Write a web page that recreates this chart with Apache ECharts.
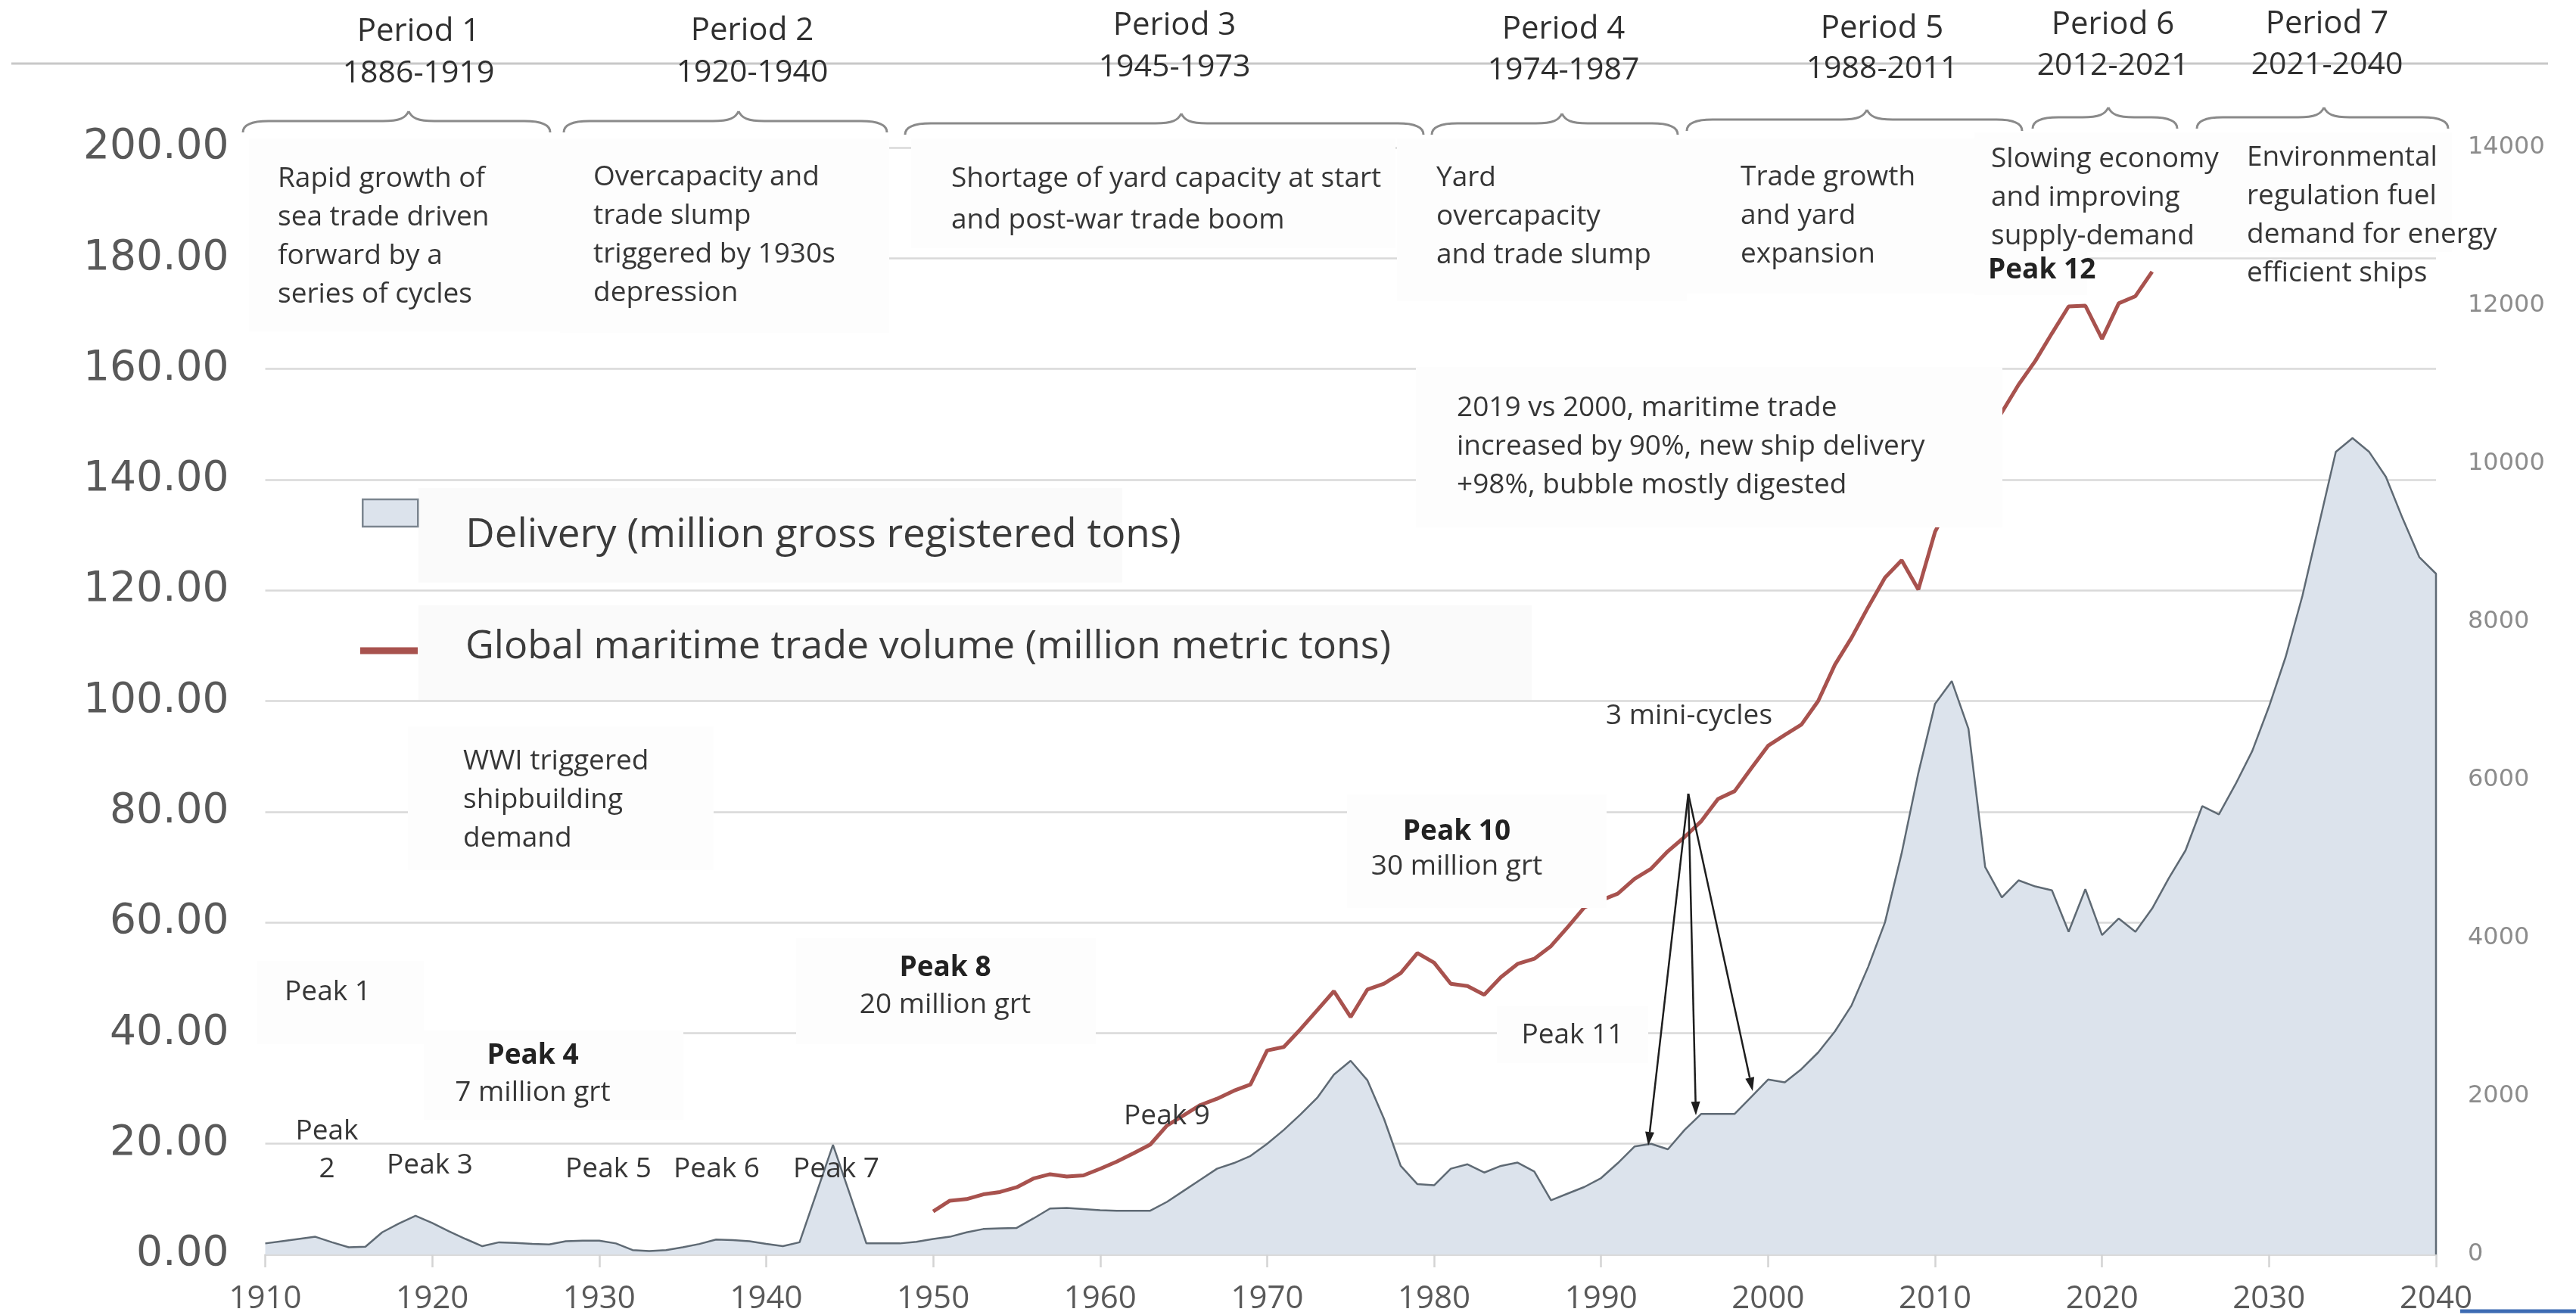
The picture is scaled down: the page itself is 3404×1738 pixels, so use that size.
<!DOCTYPE html>
<html>
<head>
<meta charset="utf-8">
<script src="https://cdn.jsdelivr.net/npm/echarts@6/dist/echarts.min.js"></script>
<style>
html,body{margin:0;padding:0;background:#ffffff;}
#c{width:3404px;height:1738px;}
</style>
</head>
<body>
<div id="c"></div>
<script>
// ---------------- DATA ----------------
const deliveryYears = [
 1910,1911,1912,1913,1914,1915,1916,1917,1918,1919,
 1920,1921,1922,1923,1924,1925,1926,1927,1928,1929,
 1930,1931,1932,1933,1934,1935,1936,1937,1938,1939,
 1940,1941,1942,1943,1944,1945,1946,1947,1948,1949,
 1950,1951,1952,1953,1954,1955,1956,1957,1958,1959,
 1960,1961,1962,1963,1964,1965,1966,1967,1968,1969,
 1970,1971,1972,1973,1974,1975,1976,1977,1978,1979,
 1980,1981,1982,1983,1984,1985,1986,1987,1988,1989,
 1990,1991,1992,1993,1994,1995,1996,1997,1998,1999,
 2000,2001,2002,2003,2004,2005,2006,2007,2008,2009,
 2010,2011,2012,2013,2014,2015,2016,2017,2018,2019,
 2020,2021,2022,2023,2024,2025,2026,2027,2028,2029,
 2030,2031,2032,2033,2034,2035,2036,2037,2038,2039,
 2040
];
// Delivery (million gross registered tons) - left axis
const deliveryValues = [
 2.0,2.4,2.8,3.2,2.2,1.3,1.4,4.0,5.6,7.0,
 5.7,4.2,2.8,1.5,2.2,2.1,1.9,1.8,2.4,2.5,
 2.5,2.0,0.8,0.6,0.8,1.3,1.9,2.7,2.6,2.4,
 1.9,1.5,2.2,11.0,19.8,11.0,2.0,2.0,2.0,2.3,
 2.8,3.2,4.0,4.6,4.7,4.8,6.5,8.3,8.4,8.2,
 8.0,7.9,7.9,7.9,9.5,11.5,13.5,15.5,16.5,17.8,
 20.0,22.5,25.3,28.3,32.5,35.0,31.5,24.5,16.0,12.7,
 12.5,15.5,16.3,14.8,16.0,16.6,15.0,9.8,11.0,12.2,
 13.8,16.5,19.5,20.0,19.0,22.5,25.4,25.4,25.4,28.5,
 31.6,31.1,33.5,36.5,40.3,45.0,52.0,60.0,72.5,87.0,
 99.5,103.6,95.0,70.0,64.5,67.6,66.5,65.8,58.3,66.0,
 57.7,60.7,58.3,62.5,68.0,73.0,81.0,79.5,85.0,91.0,
 99.0,108.0,119.0,132.0,145.0,147.5,145.0,140.5,133.0,126.0,
 123.0
];
const tradeYears = [
 1950,1951,1952,1953,1954,1955,1956,1957,1958,1959,
 1960,1961,1962,1963,1964,1965,1966,1967,1968,1969,
 1970,1971,1972,1973,1974,1975,1976,1977,1978,1979,
 1980,1981,1982,1983,1984,1985,1986,1987,1988,1989,
 1990,1991,1992,1993,1994,1995,1996,1997,1998,1999,
 2000,2001,2002,2003,2004,2005,2006,2007,2008,2009,
 2010,2011,2012,2013,2014,2015,2016,2017,2018,2019,
 2020,2021,2022,2023
];
// Global maritime trade volume (million metric tons) - right axis
const tradeValues = [
 545,680,700,760,790,850,960,1015,985,1000,
 1084,1175,1280,1390,1630,1760,1890,1970,2070,2150,
 2580,2625,2850,3090,3330,3003,3350,3424,3558,3813,
 3690,3424,3395,3285,3507,3675,3740,3900,4140,4390,
 4480,4563,4750,4880,5100,5280,5480,5760,5860,6150,
 6434,6570,6702,7000,7458,7800,8190,8560,8780,8410,
 9140,9550,9950,10300,10650,11000,11300,11650,11990,12000,
 11580,12030,12120,12430
];
const periodNames = ['Period 1','Period 2','Period 3','Period 4','Period 5','Period 6','Period 7'];
const periodRanges = ['1886-1919','1920-1940','1945-1973','1974-1987','1988-2011','2012-2021','2021-2040'];
const seriesNames = ['Delivery (million gross registered tons)','Global maritime trade volume (million metric tons)'];

// ---------------- CHART ----------------
const chart = echarts.init(document.getElementById('c'), null, {width:3404, height:1738});
const FONT = '"Open Sans", "Noto Sans", sans-serif';
const TXT = '#363636';

const deliveryData = deliveryYears.map((y,i)=>[y, deliveryValues[i]]);
deliveryData.push([2040, 0]); // closing edge of the area at 2040
const tradeData = tradeYears.map((y,i)=>[y, tradeValues[i]]);

function font(size, bold){ return (bold?'bold ':'') + size + 'px ' + FONT; }
function box(x,y,w,h,z,fill){
  return {type:'rect', silent:true, z: z||1, shape:{x:x,y:y,width:w,height:h},
          style:{fill:fill||'#fdfdfd'}};
}
function txt(text,x,y,o){
  o=o||{};
  return {type:'text', silent:true, z:o.z||12,
    style:{text:text, x:x, y:y, font:font(o.size||37,o.bold), fill:o.color||TXT,
           textAlign:o.align||'left', textVerticalAlign:o.va||'middle',
           lineHeight:o.lh||51}};
}
const BR = {stroke:'#8a8a8a', lineWidth:3, fill:null};
function bz(x1,y1,c1x,c1y,c2x,c2y,x2,y2){
  return {type:'bezierCurve', silent:true, z:5,
    shape:{x1:x1,y1:y1,cpx1:c1x,cpy1:c1y,cpx2:c2x,cpy2:c2y,x2:x2,y2:y2}, style:Object.assign({},BR)};
}
function ln(x1,y1,x2,y2){
  return {type:'line', silent:true, z:5, shape:{x1:x1,y1:y1,x2:x2,y2:y2}, style:Object.assign({},BR)};
}
function brace(x1,xm,x2,base){
  const t=base-13, e=base+15;
  return [
    bz(x1,e, x1,base+5, x1+10,base, x1+34,base),
    ln(x1+34,base, xm-34,base),
    bz(xm-34,base, xm-12,base, xm-4,base-4, xm,t),
    bz(xm,t, xm+4,base-4, xm+12,base, xm+34,base),
    ln(xm+34,base, x2-34,base),
    bz(x2-34,base, x2-10,base, x2,base+5, x2,e)
  ];
}
function arrow(x1,y1,x2,y2){
  const dx=x2-x1, dy=y2-y1, L=Math.sqrt(dx*dx+dy*dy), ux=dx/L, uy=dy/L;
  const bx=x2-ux*18, by=y2-uy*18, px=-uy*6, py=ux*6;
  return [
    {type:'line', silent:true, z:12, shape:{x1:x1,y1:y1,x2:bx,y2:by}, style:{stroke:'#1e1e1e', lineWidth:2.5}},
    {type:'polygon', silent:true, z:12, shape:{points:[[x2,y2],[bx+px,by+py],[bx-px,by-py]]}, style:{fill:'#1e1e1e'}}
  ];
}

const g = [];
// top rule
g.push({type:'line', silent:true, z:3, shape:{x1:15,y1:84,x2:3367,y2:84}, style:{stroke:'#c8c8c8', lineWidth:3}});
// period headers
const pX=[553,994,1552,2066,2487,2792,3075], pY1=[42,41,34,39,38,33,32], pY2=[97,96,89,93,91,87,86];
for(let i=0;i<7;i++){
  g.push(txt(periodNames[i], pX[i], pY1[i], {size:42, align:'center', color:'#2f2f2f'}));
  g.push(txt(periodRanges[i], pX[i], pY2[i], {size:41, align:'center', color:'#2f2f2f'}));
}
// braces
[[321,540,727,160],[745,976,1172,160],[1196,1561,1881,163],[1892,2064,2217,163],
 [2229,2467,2672,158],[2686,2786,2877,155],[2903,3071,3235,155]].forEach(b=>{
  brace(b[0],b[1],b[2],b[3]).forEach(e=>g.push(e));
});
// description boxes (hide grid lines behind)
g.push(box(329,183,411,255));
g.push(box(740,183,435,257));
g.push(box(1204,183,640,145));
g.push(box(1846,183,383,215));
g.push(box(2229,183,380,205));
g.push(box(2609,175,149,215));
g.push(box(2758,175,482,158));
// description texts
g.push(txt('Rapid growth of\nsea trade driven\nforward by a\nseries of cycles', 367, 211, {va:'top'}));
g.push(txt('Overcapacity and\ntrade slump\ntriggered by 1930s\ndepression', 784, 209, {va:'top'}));
g.push(txt('Shortage of yard capacity at start\nand post-war trade boom', 1257, 209, {va:'top', lh:55}));
g.push(txt('Yard\novercapacity\nand trade slump', 1898, 210, {va:'top'}));
g.push(txt('Trade growth\nand yard\nexpansion', 2300, 209, {va:'top'}));
g.push(txt('Slowing economy\nand improving\nsupply-demand', 2631, 185, {va:'top'}));
g.push(txt('Peak 12', 2627, 357, {bold:true, color:'#222'}));
g.push(txt('Environmental\nregulation fuel\ndemand for energy\nefficient ships', 2969, 183, {va:'top'}));
// legend boxes
g.push(box(553,645,930,125,1,'#fafafa'));
g.push(box(553,800,1471,125,1,'#fafafa'));
// WWI
g.push(box(539,960,404,190));
g.push(txt('WWI triggered\nshipbuilding\ndemand', 612, 981, {va:'top'}));
// peak label boxes
g.push(box(340,1270,220,110));
g.push(box(560,1362,343,118));
g.push(box(1052,1240,396,140));
g.push(box(1978,1330,200,75));
g.push(box(1780,1050,343,150,10));
g.push(box(1871,485,775,212,10));
// peak labels
g.push(txt('Peak 1', 433, 1311, {align:'center'}));
g.push(txt('Peak\n2', 432, 1470, {align:'center', va:'top', lh:50}));
g.push(txt('Peak 3', 568, 1540, {align:'center'}));
g.push(txt('Peak 4', 704, 1395, {align:'center', bold:true, color:'#222'}));
g.push(txt('7 million grt', 704, 1444, {align:'center'}));
g.push(txt('Peak 5', 804, 1545, {align:'center'}));
g.push(txt('Peak 6', 947, 1545, {align:'center'}));
g.push(txt('Peak 7', 1105, 1545, {align:'center'}));
g.push(txt('Peak 8', 1249, 1279, {align:'center', bold:true, color:'#222'}));
g.push(txt('20 million grt', 1249, 1328, {align:'center'}));
g.push(txt('Peak 9', 1542, 1475, {align:'center'}));
g.push(txt('Peak 10', 1925, 1099, {align:'center', bold:true, color:'#222'}));
g.push(txt('30 million grt', 1925, 1145, {align:'center'}));
g.push(txt('Peak 11', 2078, 1368, {align:'center'}));
g.push(txt('3 mini-cycles', 2232, 946, {align:'center'}));
g.push(txt('2019 vs 2000, maritime trade\nincreased by 90%, new ship delivery\n+98%, bubble mostly digested', 1925, 514, {va:'top'}));
// mini-cycle arrows
arrow(2231,1049,2178,1514).forEach(e=>g.push(e));
arrow(2231,1049,2241,1474).forEach(e=>g.push(e));
arrow(2231,1049,2316,1442).forEach(e=>g.push(e));
// blue bar bottom-right
g.push({type:'line', silent:true, z:3, shape:{x1:3251,y1:1733,x2:3404,y2:1733}, style:{stroke:'#3d6bb3', lineWidth:5}});

const option = {
  animation:false,
  backgroundColor:'#ffffff',
  grid:{left:350.5, right:185, top:195, bottom:78, containLabel:false},
  legend:[
    {data:[{name:seriesNames[0], icon:'rect', itemStyle:{color:'#dce3ec', borderColor:'#7b858f', borderWidth:2.5}}],
     left:478, top:618, orient:'vertical', padding:0, itemWidth:73, itemHeight:36, selectedMode:false, z:12,
     formatter:'\n{name}',
     textStyle:{fontSize:53, fontFamily:FONT, color:'#3b3b3b', lineHeight:60, padding:[0,0,0,58]}},
    {data:[{name:seriesNames[1], icon:'rect', itemStyle:{color:'#a8524e', borderWidth:0}}],
     left:476, top:829, orient:'vertical', padding:0, itemWidth:76, itemHeight:9, selectedMode:false, z:12,
     formatter:'{name}\n',
     textStyle:{fontSize:52, fontFamily:FONT, color:'#3b3b3b', lineHeight:10, padding:[0,0,0,58]}}
  ],
  xAxis:{type:'value', min:1910, max:2040, interval:10,
    axisLine:{show:true, lineStyle:{color:'#d9d9d9', width:2.5}},
    axisTick:{show:true, length:17, lineStyle:{color:'#d4d4d4', width:2.5}},
    axisLabel:{color:'#595959', fontSize:42, fontFamily:FONT, margin:38, formatter:v=>String(v)},
    splitLine:{show:false}},
  yAxis:[
    {type:'value', min:0, max:200, interval:20, position:'left',
     axisLine:{show:false}, axisTick:{show:false},
     axisLabel:{color:'#595959', fontSize:55, fontFamily:'"DejaVu Sans", sans-serif', margin:48, formatter:v=>v.toFixed(2)},
     splitLine:{show:true, lineStyle:{color:'#d9d9d9', width:2.5}}},
    {type:'value', min:0, max:14000, interval:2000, position:'right',
     axisLine:{show:false}, axisTick:{show:false},
     axisLabel:{color:'#8c8c8c', fontSize:32, fontFamily:'"DejaVu Sans", sans-serif', margin:42, formatter:v=>String(v)},
     splitLine:{show:false}}
  ],
  series:[
    {name:seriesNames[0], type:'line', yAxisIndex:0, data:deliveryData, symbol:'none', z:2,
     lineStyle:{color:'#5f6a74', width:2.5}, itemStyle:{color:'#dce3ec'},
     areaStyle:{color:'#dce3ec', opacity:1}},
    {name:seriesNames[1], type:'line', yAxisIndex:1, data:tradeData, symbol:'none', z:3,
     lineStyle:{color:'#a8524e', width:5}, itemStyle:{color:'#a8524e'}}
  ],
  graphic:{elements:g}
};
chart.setOption(option);
</script>
</body>
</html>
